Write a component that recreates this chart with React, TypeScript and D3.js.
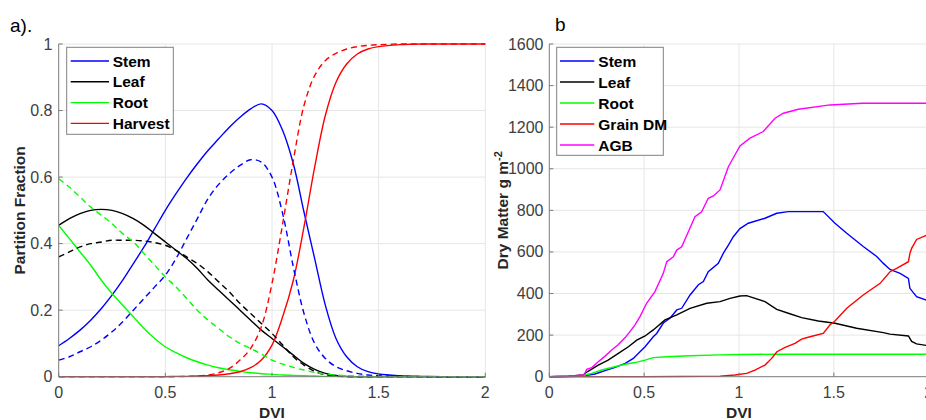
import React from "react";
import * as d3 from "d3";

// ---------- Panel a: partition fractions ----------
const dviGrid = [0, 0.05, 0.1, 0.15, 0.2, 0.25, 0.3, 0.35, 0.4, 0.45, 0.5, 0.55, 0.6, 0.65, 0.7, 0.75, 0.8, 0.85, 0.9, 0.95, 1.0, 1.05, 1.1, 1.15, 1.2, 1.25, 1.3, 1.35, 1.4, 1.45, 1.5, 1.6, 1.7, 1.8, 1.9, 2.0];

const stemSolid = [0.093, 0.115, 0.14, 0.17, 0.205, 0.245, 0.29, 0.34, 0.39, 0.445, 0.5, 0.55, 0.597, 0.64, 0.68, 0.715, 0.75, 0.78, 0.805, 0.82, 0.8, 0.74, 0.64, 0.495, 0.355, 0.215, 0.115, 0.06, 0.03, 0.015, 0.008, 0.003, 0.001, 0, 0, 0];
const stemDashed = [0.05, 0.06, 0.075, 0.09, 0.11, 0.135, 0.165, 0.2, 0.235, 0.27, 0.305, 0.355, 0.415, 0.475, 0.535, 0.578, 0.61, 0.635, 0.652, 0.645, 0.6, 0.49, 0.33, 0.19, 0.1, 0.055, 0.03, 0.018, 0.01, 0.005, 0.003, 0.001, 0, 0, 0, 0];
const leafSolid = [0.455, 0.475, 0.49, 0.5, 0.503, 0.5, 0.49, 0.475, 0.455, 0.43, 0.405, 0.38, 0.355, 0.325, 0.29, 0.26, 0.23, 0.2, 0.17, 0.14, 0.115, 0.09, 0.065, 0.04, 0.022, 0.01, 0.004, 0.001, 0, 0, 0, 0, 0, 0, 0, 0];
const leafDashed = [0.36, 0.375, 0.39, 0.4, 0.405, 0.41, 0.41, 0.41, 0.408, 0.403, 0.395, 0.38, 0.36, 0.34, 0.315, 0.285, 0.255, 0.22, 0.19, 0.16, 0.13, 0.095, 0.06, 0.035, 0.016, 0.006, 0.002, 0, 0, 0, 0, 0, 0, 0, 0, 0];
const rootSolid = [0.455, 0.415, 0.375, 0.335, 0.29, 0.25, 0.215, 0.18, 0.145, 0.115, 0.09, 0.072, 0.057, 0.045, 0.035, 0.027, 0.021, 0.016, 0.012, 0.009, 0.007, 0.005, 0.004, 0.003, 0.002, 0.001, 0.001, 0, 0, 0, 0, 0, 0, 0, 0, 0];
const rootDashed = [0.595, 0.57, 0.54, 0.51, 0.485, 0.46, 0.43, 0.405, 0.37, 0.335, 0.3, 0.27, 0.235, 0.2, 0.17, 0.145, 0.12, 0.1, 0.085, 0.068, 0.05, 0.038, 0.028, 0.02, 0.013, 0.008, 0.005, 0.003, 0.002, 0.001, 0, 0, 0, 0, 0, 0];
const harvestSolid = [0, 0, 0, 0, 0, 0, 0, 0, 0, 0, 0, 0.001, 0.001, 0.002, 0.003, 0.005, 0.009, 0.015, 0.027, 0.05, 0.095, 0.18, 0.29, 0.45, 0.63, 0.785, 0.885, 0.94, 0.97, 0.985, 0.992, 0.998, 1, 1, 1, 1];
const harvestDashed = [0, 0, 0, 0, 0, 0, 0, 0, 0, 0, 0, 0, 0.001, 0.002, 0.005, 0.012, 0.025, 0.05, 0.085, 0.15, 0.28, 0.46, 0.65, 0.815, 0.905, 0.95, 0.972, 0.985, 0.992, 0.996, 0.998, 1, 1, 1, 1, 1];

const partLegend = ["Stem", "Leaf", "Root", "Harvest"];
const partXTicks = [0, 0.5, 1, 1.5, 2];
const partYTicks = [0, 0.2, 0.4, 0.6, 0.8, 1];

// ---------- Panel b: dry matter ----------
const stemDM: [number, number][] = [[0, 0], [0.1, 1], [0.18, 3], [0.19, 5], [0.241, 13], [0.294, 29], [0.347, 45], [0.4, 64], [0.443, 88], [0.478, 120], [0.505, 144], [0.548, 192], [0.566, 208], [0.601, 258], [0.636, 281], [0.672, 321], [0.698, 329], [0.742, 393], [0.786, 442], [0.812, 458], [0.838, 505], [0.891, 545], [0.917, 593], [0.944, 633], [0.97, 673], [1.005, 712], [1.049, 738], [1.137, 762], [1.199, 786], [1.26, 794], [1.444, 794], [1.506, 738], [1.568, 690], [1.655, 626], [1.726, 578], [1.761, 545], [1.796, 516], [1.849, 497], [1.893, 473], [1.901, 425], [1.936, 385], [1.99, 368]];
const leafDM: [number, number][] = [[0, 0], [0.1, 2], [0.18, 8], [0.19, 18], [0.215, 32], [0.258, 56], [0.31, 80], [0.364, 112], [0.417, 144], [0.461, 176], [0.505, 196], [0.548, 225], [0.61, 273], [0.672, 297], [0.742, 329], [0.83, 353], [0.9, 361], [0.953, 377], [1.005, 388], [1.04, 390], [1.137, 361], [1.199, 324], [1.26, 305], [1.33, 284], [1.418, 268], [1.506, 257], [1.62, 233], [1.761, 212], [1.796, 205], [1.893, 196], [1.91, 170], [1.936, 158], [1.99, 150]];
const rootDM: [number, number][] = [[0, 0], [0.1, 2], [0.18, 5], [0.188, 8], [0.224, 16], [0.276, 32], [0.329, 44], [0.4, 60], [0.452, 68], [0.505, 80], [0.548, 92], [0.62, 96], [0.742, 101], [0.9, 105], [1.005, 107], [1.2, 108], [1.99, 108]];
const grainDM: [number, number][] = [[0, 0], [0.5, 0], [0.7, 1], [0.9, 3], [0.979, 8], [1.04, 16], [1.084, 32], [1.137, 56], [1.172, 88], [1.2, 120], [1.243, 141], [1.295, 160], [1.33, 181], [1.374, 192], [1.444, 208], [1.48, 250], [1.506, 268], [1.568, 329], [1.655, 393], [1.744, 449], [1.796, 505], [1.831, 521], [1.893, 553], [1.901, 593], [1.91, 617], [1.936, 660], [1.99, 681]];
const agbDM: [number, number][] = [[0, 0], [0.1, 2], [0.18, 8], [0.188, 16], [0.197, 35], [0.224, 44], [0.258, 72], [0.294, 99], [0.329, 128], [0.364, 155], [0.4, 188], [0.425, 217], [0.452, 249], [0.478, 289], [0.513, 353], [0.557, 409], [0.601, 497], [0.619, 553], [0.654, 577], [0.672, 609], [0.698, 625], [0.733, 697], [0.768, 769], [0.803, 793], [0.838, 858], [0.865, 869], [0.9, 898], [0.944, 1010], [1.005, 1110], [1.058, 1147], [1.128, 1179], [1.19, 1243], [1.234, 1267], [1.313, 1286], [1.48, 1307], [1.65, 1315], [1.99, 1315]];

const dmLegend = ["Stem", "Leaf", "Root", "Grain DM", "AGB"];
const dmXTicks = [0, 0.5, 1, 1.5, 2];
const dmYTicks = [0, 200, 400, 600, 800, 1000, 1200, 1400, 1600];

const BLUE = "#0000ff";
const BLACK = "#000000";
const GREEN = "#00ff00";
const RED = "#ff0000";
const MAGENTA = "#ff00ff";
const FONT = "'Liberation Sans', Arial, Helvetica, sans-serif";
const GRID = "#e6e6e6";
const AXIS = "#7a7a7a";
const TICKTXT = "#404040";

export default function App() {
  const xA = d3.scaleLinear().domain([0, 2]).range([58.7, 485.3]);
  const yA = d3.scaleLinear().domain([0, 1]).range([376.7, 44]);
  const xB = d3.scaleLinear().domain([0, 2]).range([549.3, 928.7]);
  const yB = d3.scaleLinear().domain([0, 1600]).range([376.7, 44]);

  const lineA = (vals: number[]) =>
    d3.line<number>().x((_, i) => xA(dviGrid[i])).y((d) => yA(d)).curve(d3.curveCatmullRom.alpha(0.5))(vals) || "";
  const lineB = (pts: [number, number][]) =>
    d3.line<[number, number]>().x((d) => xB(d[0])).y((d) => yB(d[1]))(pts) || "";

  const aSeries = [
    { v: stemSolid, c: BLUE, dash: undefined },
    { v: leafSolid, c: BLACK, dash: undefined },
    { v: rootSolid, c: GREEN, dash: undefined },
    { v: harvestSolid, c: RED, dash: undefined },
    { v: stemDashed, c: BLUE, dash: "6,4" },
    { v: leafDashed, c: BLACK, dash: "6,4" },
    { v: rootDashed, c: GREEN, dash: "6,4" },
    { v: harvestDashed, c: RED, dash: "6,4" },
  ];
  const bSeries = [
    { p: stemDM, c: BLUE },
    { p: leafDM, c: BLACK },
    { p: rootDM, c: GREEN },
    { p: grainDM, c: RED },
    { p: agbDM, c: MAGENTA },
  ];
  const aColors = [BLUE, BLACK, GREEN, RED];
  const bColors = [BLUE, BLACK, GREEN, RED, MAGENTA];

  const [ax0, ax1] = xA.range();
  const [ay0, ay1] = yA.range();
  const [bx0, bx1] = xB.range();
  const [by0, by1] = yB.range();

  return (
    <>
      <style>{`body{margin:0;overflow:hidden}`}</style>
      <svg width={926} height={420} style={{ display: "block", background: "#fff" }} fontFamily={FONT}>
        <defs>
          <clipPath id="clipA">
            <rect x={ax0} y={ay1 - 2} width={ax1 - ax0 + 2} height={ay0 - ay1 + 3} />
          </clipPath>
          <clipPath id="clipB">
            <rect x={bx0} y={by1 - 2} width={bx1 - bx0} height={by0 - by1 + 3} />
          </clipPath>
        </defs>

        {/* Panel a */}
        <text x={10} y={32} fontSize={19} fill="#000">a).</text>
        {partXTicks.filter((t) => t > 0).map((t) => (
          <line key={"agx" + t} x1={xA(t)} x2={xA(t)} y1={ay0} y2={ay1} stroke={GRID} strokeWidth={1} />
        ))}
        {partYTicks.filter((t) => t > 0).map((t) => (
          <line key={"agy" + t} x1={ax0} x2={ax1} y1={yA(t)} y2={yA(t)} stroke={GRID} strokeWidth={1} />
        ))}
        <g clipPath="url(#clipA)">
          {aSeries.map((s, i) => (
            <path key={"as" + i} d={lineA(s.v)} fill="none" stroke={s.c} strokeWidth={1.4} strokeDasharray={s.dash} />
          ))}
        </g>
        <line x1={ax0} x2={ax0} y1={ay0} y2={ay1} stroke={AXIS} strokeWidth={1} />
        <line x1={ax0} x2={ax1} y1={ay0} y2={ay0} stroke={AXIS} strokeWidth={1} />
        {partXTicks.map((t) => (
          <g key={"axt" + t}>
            <line x1={xA(t)} x2={xA(t)} y1={ay0} y2={ay0 - 4} stroke={AXIS} />
            <text x={xA(t)} y={398} fontSize={16} fill={TICKTXT} textAnchor="middle">{t}</text>
          </g>
        ))}
        {partYTicks.map((t) => (
          <g key={"ayt" + t}>
            <line x1={ax0} x2={ax0 + 4} y1={yA(t)} y2={yA(t)} stroke={AXIS} />
            <text x={52.5} y={yA(t) + 5.5} fontSize={16} fill={TICKTXT} textAnchor="end">{t}</text>
          </g>
        ))}
        <text x={xA(1)} y={418} fontSize={15.5} fontWeight="bold" textAnchor="middle" fill="#262626">DVI</text>
        <text transform={`translate(25,${(ay0 + ay1) / 2}) rotate(-90)`} fontSize={15.5} fontWeight="bold" textAnchor="middle" fill="#262626">Partition Fraction</text>

        <rect x={66.7} y={47.3} width={106.6} height={87} fill="#fff" stroke="#808080" strokeWidth={1} />
        {partLegend.map((name, i) => (
          <g key={"al" + name}>
            <line x1={70.7} x2={109} y1={61 + i * 20.8} y2={61 + i * 20.8} stroke={aColors[i]} strokeWidth={1.4} />
            <text x={112.7} y={61 + i * 20.8 + 5.5} fontSize={15.5} fontWeight="bold" fill="#000">{name}</text>
          </g>
        ))}

        {/* Panel b */}
        <text x={555} y={31} fontSize={19} fill="#000">b</text>
        {dmXTicks.filter((t) => t > 0).map((t) => (
          <line key={"bgx" + t} x1={xB(t)} x2={xB(t)} y1={by0} y2={by1} stroke={GRID} strokeWidth={1} />
        ))}
        {dmYTicks.filter((t) => t > 0).map((t) => (
          <line key={"bgy" + t} x1={bx0} x2={bx1} y1={yB(t)} y2={yB(t)} stroke={GRID} strokeWidth={1} />
        ))}
        <g clipPath="url(#clipB)">
          {bSeries.map((s, i) => (
            <path key={"bs" + i} d={lineB(s.p)} fill="none" stroke={s.c} strokeWidth={1.4} />
          ))}
        </g>
        <line x1={bx0} x2={bx0} y1={by0} y2={by1} stroke={AXIS} strokeWidth={1} />
        <line x1={bx0} x2={bx1} y1={by0} y2={by0} stroke={AXIS} strokeWidth={1} />
        {dmXTicks.map((t) => (
          <g key={"bxt" + t}>
            <line x1={xB(t)} x2={xB(t)} y1={by0} y2={by0 - 4} stroke={AXIS} />
            <text x={xB(t)} y={398} fontSize={16} fill={TICKTXT} textAnchor="middle">{t}</text>
          </g>
        ))}
        {dmYTicks.map((t) => (
          <g key={"byt" + t}>
            <line x1={bx0} x2={bx0 + 4} y1={yB(t)} y2={yB(t)} stroke={AXIS} />
            <text x={543.5} y={yB(t) + 5.5} fontSize={16} fill={TICKTXT} textAnchor="end">{t}</text>
          </g>
        ))}
        <text x={xB(1)} y={418} fontSize={15.5} fontWeight="bold" textAnchor="middle" fill="#262626">DVI</text>
        <text transform={`translate(508,${(by0 + by1) / 2}) rotate(-90)`} fontSize={15.5} fontWeight="bold" textAnchor="middle" fill="#262626">
          Dry Matter g m<tspan dy={-6} fontSize={11}>-2</tspan>
        </text>

        <rect x={556.7} y={47.3} width={106.6} height={108} fill="#fff" stroke="#808080" strokeWidth={1} />
        {dmLegend.map((name, i) => (
          <g key={"bl" + name}>
            <line x1={560} x2={594.3} y1={61 + i * 21} y2={61 + i * 21} stroke={bColors[i]} strokeWidth={1.4} />
            <text x={598.3} y={61 + i * 21 + 5.5} fontSize={15.5} fontWeight="bold" fill="#000">{name}</text>
          </g>
        ))}
      </svg>
    </>
  );
}
